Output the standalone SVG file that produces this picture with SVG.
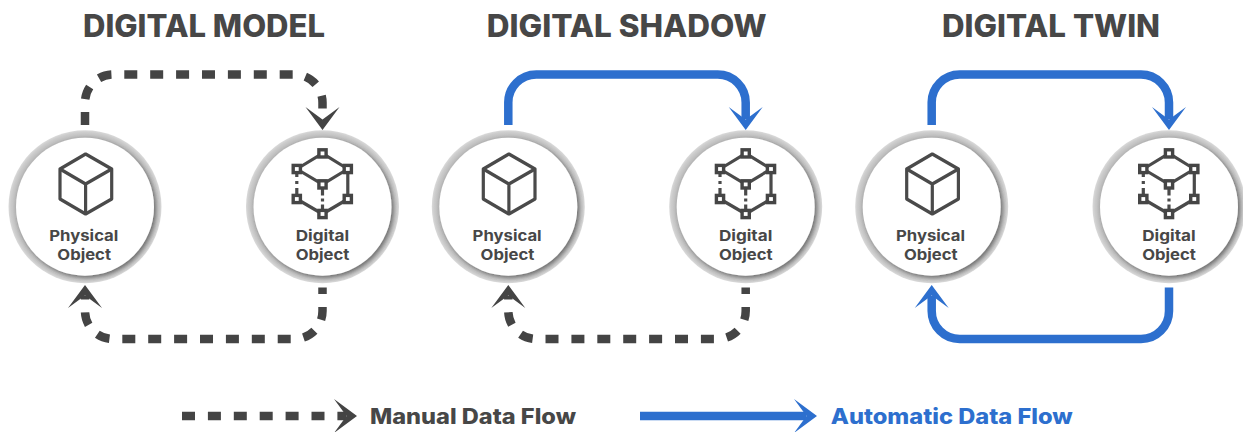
<svg xmlns="http://www.w3.org/2000/svg" xmlns:xlink="http://www.w3.org/1999/xlink" width="1243" height="432" viewBox="0 0 1243 432">
<style>
text{font-family:"Inter","Liberation Sans",sans-serif;fill:#474747}
.title{font-size:31px;font-weight:800}
.label{font-size:15px;font-weight:700}
.legend{font-size:21px;font-weight:800}
.blue{fill:#2d6fce}
.conn{fill:none;stroke-width:8.5}
.manual{stroke:#444;stroke-dasharray:13 12.9;marker-end:url(#headDark)}
.auto{stroke:#2d6fce;marker-end:url(#headBlue)}
.ico{fill:none;stroke:#4a4a4a;stroke-width:3.2;stroke-linejoin:round}
.sq{fill:#fff;stroke:#454545;stroke-width:3.4}
</style>
<defs>
<marker id="headDark" markerUnits="userSpaceOnUse" markerWidth="24" markerHeight="36" viewBox="0 0 24 36" refX="12" refY="18" orient="auto"><path d="M0,1 L12.5,18 L0,35 L23,18 Z" fill="#444"/></marker>
<marker id="headBlue" markerUnits="userSpaceOnUse" markerWidth="24" markerHeight="36" viewBox="0 0 24 36" refX="12" refY="18" orient="auto"><path d="M0,1 L12.5,18 L0,35 L23,18 Z" fill="#2d6fce"/></marker>
<radialGradient id="ringFill" cx="0.5" cy="0.5" r="0.5"><stop offset="0.9" stop-color="#b8b8b8"/><stop offset="0.97" stop-color="#cccccc"/><stop offset="1" stop-color="#dadada"/></radialGradient>
<filter id="disc" x="-20%" y="-20%" width="140%" height="140%"><feDropShadow dx="2" dy="2" stdDeviation="2.2" flood-color="#3a3a3a" flood-opacity="0.6"/></filter>
<filter id="soft" x="-20%" y="-20%" width="140%" height="140%"><feGaussianBlur stdDeviation="0.6"/></filter>
<g id="disk">
<circle r="76.5" fill="url(#ringFill)" filter="url(#soft)"/>
<circle r="69" fill="#fff" filter="url(#disc)"/>
</g>
<g id="cube" class="ico">
<path d="M0.6,-52.7 L26.7,-37.7 V-7.7 L0.6,7.3 L-25,-7.7 V-37.7 Z"/>
<path d="M-25,-37.7 L0.6,-22.7 L26.7,-37.7 M0.6,-22.7 V7.3"/>
</g>
<g id="mesh">
<path class="ico" d="M0,-53.3 L25.3,-37.7 V-7.7 L0,7.3 L-25.7,-7.7 M-25.7,-37.7 L0,-53.3 M-25.7,-37.7 L0,-22.3 L25.3,-37.7"/>
<path class="ico" stroke-dasharray="8 4 3 4" d="M-25.7,-37.7 V-7.7"/>
<path class="ico" stroke-dasharray="11 3 3 3" d="M0,-22.3 V7.3"/>
<rect class="sq" x="-3.6" y="-56.9" width="7.2" height="7.2"/>
<rect class="sq" x="21.7" y="-41.3" width="7.2" height="7.2"/>
<rect class="sq" x="21.7" y="-11.3" width="7.2" height="7.2"/>
<rect class="sq" x="-3.6" y="3.7" width="7.2" height="7.2"/>
<rect class="sq" x="-29.3" y="-11.3" width="7.2" height="7.2"/>
<rect class="sq" x="-29.3" y="-41.3" width="7.2" height="7.2"/>
<rect class="sq" x="-3.6" y="-25.9" width="7.2" height="7.2"/>
</g>
</defs>
<rect width="1243" height="432" fill="#fff"/>
<g id="titles">
<text class="title" x="83" y="36.5" textLength="242" lengthAdjust="spacingAndGlyphs">DIGITAL MODEL</text>
<text class="title" x="486.7" y="36.5" textLength="280" lengthAdjust="spacingAndGlyphs">DIGITAL SHADOW</text>
<text class="title" x="942" y="36.5" textLength="218" lengthAdjust="spacingAndGlyphs">DIGITAL TWIN</text>
</g>
<g id="connectors">
<path class="conn manual" d="M85,125 V103 A28,28 0 0 1 113,74.5 H294.5 A28,28 0 0 1 322.5,102.5 V119"/>
<path class="conn manual" stroke-dashoffset="6.5" d="M322.5,287.5 V311 A28,28 0 0 1 294.5,339 H113 A28,28 0 0 1 85,311 V296"/>
<path class="conn auto" d="M508.3,125 V103 A28,28 0 0 1 536.3,74.5 H717.7 A28,28 0 0 1 745.7,102.5 V119"/>
<path class="conn manual" stroke-dashoffset="6.5" d="M745.7,287.5 V311 A28,28 0 0 1 717.7,339 H536.3 A28,28 0 0 1 508.3,311 V296"/>
<path class="conn auto" d="M931.7,125 V103 A28,28 0 0 1 959.7,74.5 H1141 A28,28 0 0 1 1169,102.5 V119"/>
<path class="conn auto" d="M1169,287.5 V311 A28,28 0 0 1 1141,339 H959.7 A28,28 0 0 1 931.7,311 V296"/>
</g>
<g id="model-physical" transform="translate(85,206.7)"><use href="#disk"/><use href="#cube"/>
<text class="label" x="-35.7" y="34" textLength="69" lengthAdjust="spacingAndGlyphs">Physical</text><text class="label" x="-27.7" y="53.3" textLength="53.7" lengthAdjust="spacingAndGlyphs">Object</text></g>
<g id="model-digital" transform="translate(322.5,206.7)"><use href="#disk"/><use href="#mesh"/>
<text class="label" x="-26.8" y="34" textLength="53.4" lengthAdjust="spacingAndGlyphs">Digital</text><text class="label" x="-26.8" y="53.3" textLength="53.7" lengthAdjust="spacingAndGlyphs">Object</text></g>
<g id="shadow-physical" transform="translate(508.3,206.7)"><use href="#disk"/><use href="#cube"/>
<text class="label" x="-35.7" y="34" textLength="69" lengthAdjust="spacingAndGlyphs">Physical</text><text class="label" x="-27.7" y="53.3" textLength="53.7" lengthAdjust="spacingAndGlyphs">Object</text></g>
<g id="shadow-digital" transform="translate(745.7,206.7)"><use href="#disk"/><use href="#mesh"/>
<text class="label" x="-26.8" y="34" textLength="53.4" lengthAdjust="spacingAndGlyphs">Digital</text><text class="label" x="-26.8" y="53.3" textLength="53.7" lengthAdjust="spacingAndGlyphs">Object</text></g>
<g id="twin-physical" transform="translate(931.7,206.7)"><use href="#disk"/><use href="#cube"/>
<text class="label" x="-35.7" y="34" textLength="69" lengthAdjust="spacingAndGlyphs">Physical</text><text class="label" x="-27.7" y="53.3" textLength="53.7" lengthAdjust="spacingAndGlyphs">Object</text></g>
<g id="twin-digital" transform="translate(1169,206.7)"><use href="#disk"/><use href="#mesh"/>
<text class="label" x="-26.8" y="34" textLength="53.4" lengthAdjust="spacingAndGlyphs">Digital</text><text class="label" x="-26.8" y="53.3" textLength="53.7" lengthAdjust="spacingAndGlyphs">Object</text></g>
<g id="legend">
<path class="conn manual" d="M182,416 H346"/>
<text class="legend" x="370" y="423.5" textLength="206" lengthAdjust="spacingAndGlyphs">Manual Data Flow</text>
<path class="conn auto" d="M640,416 H806"/>
<text class="legend blue" x="830.7" y="423.5" textLength="242" lengthAdjust="spacingAndGlyphs">Automatic Data Flow</text>
</g>
</svg>
